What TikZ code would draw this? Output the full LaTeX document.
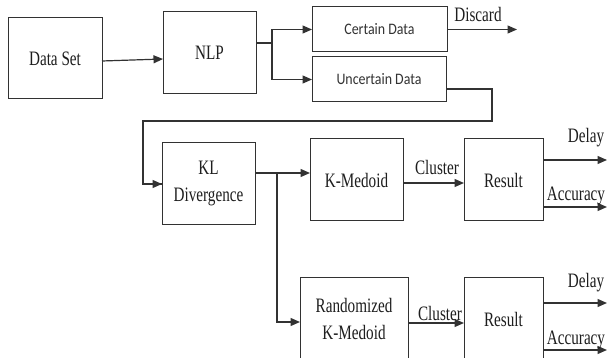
\documentclass[tikz,border=0pt]{standalone}
\usepackage{fontspec}
\setmainfont{Liberation Serif}[FakeStretch=0.74]
\newfontfamily\calfont{Carlito}[FakeStretch=0.87]
\usetikzlibrary{arrows.meta}
\definecolor{linec}{RGB}{50,50,50}
\definecolor{textc}{RGB}{30,30,30}
\begin{document}
\begin{tikzpicture}[x=1pt,y=-1pt,
  box/.style={draw=linec, line width=1pt, rectangle, inner sep=0pt, outer sep=0pt,
    align=center, text=textc, font=\fontsize{20.5}{27}\selectfont},
  sbox/.style={box, text={rgb,255:red,50;green,50;blue,50}, font=\calfont\fontsize{16}{18}\selectfont},
  ln/.style={draw=linec, line width=1.2pt},
  arr/.style={ln, -{Triangle[length=9.5pt,width=8pt]}},
  lbl/.style={inner sep=0pt, text=textc, font=\fontsize{20.5}{22}\selectfont}]
\path[fill=white, use as bounding box] (0,0) rectangle (608,358);
% boxes
\node[box, minimum width=94pt, minimum height=81pt] (ds) at (55,58.5) {Data Set};
\node[box, minimum width=93pt, minimum height=82pt] (nlp) at (209.5,53) {NLP};
\node[sbox, minimum width=135pt, minimum height=45pt] (cert) at (379.5,29.5) {Certain Data};
\node[sbox, minimum width=134pt, minimum height=45pt] (unc) at (379,79.5) {Uncertain Data};
\node[box, minimum width=93pt, minimum height=82pt] (kl) at (208.5,184) {KL\\Divergence};
\node[box, minimum width=93pt, minimum height=82pt] (km) at (356.5,180) {K-Medoid};
\node[box, minimum width=79pt, minimum height=82pt] (r1) at (503.5,180) {Result};
\node[box, minimum width=108pt, minimum height=82pt] (rkm) at (354,319) {Randomized\\K-Medoid};
\node[box, minimum width=79pt, minimum height=82pt] (r2) at (503.5,319) {Result};
% coordinates
\coordinate (b1) at (272,43);
\coordinate (dis) at (517,29.5);
\coordinate (u1) at (492,89);
\coordinate (u2) at (492,121);
\coordinate (u3) at (143,121);
\coordinate (b2) at (277,173);
\coordinate (d1) at (607,160);
\coordinate (a1) at (607,207);
\coordinate (d2) at (607,303);
\coordinate (a2) at (607,350);
% connectors
\draw[arr] ([yshift=-2.5pt]ds.east) -- ([yshift=-6pt]nlp.west);
\draw[ln] ([yshift=10pt]nlp.east) -- (b1);
\draw[arr] (b1) |- (cert.west);
\draw[arr] (b1) |- (unc.west);
\draw[arr] (cert.east) -- (dis);
\draw[ln] ([yshift=-9.5pt]unc.east) -- (u1) -- (u2) -- (u3) |- (kl.west);
\draw[arr] (u3 |- kl.west) -- (kl.west);
\draw[ln] ([yshift=11pt]kl.east) -- (b2);
\draw[arr] (b2) -- (b2 -| km.west);
\draw[arr] (b2) |- ([yshift=-3pt]rkm.west);
\draw[arr] ([yshift=-3pt]km.east) -- ([yshift=-3pt]r1.west);
\draw[arr] ([yshift=20pt]r1.east) -- (d1);
\draw[arr] ([yshift=-27pt]r1.east) -- (a1);
\draw[arr] ([yshift=-4pt]rkm.east) -- ([yshift=-4pt]r2.west);
\draw[arr] ([yshift=16pt]r2.east) -- (d2);
\draw[arr] ([yshift=-31pt]r2.east) -- (a2);
% labels
\node[lbl] (ldis) at (478,14) {Discard};
\node[lbl] (lc1) at (437,167) {Cluster};
\node[lbl] (ld1) at (586,138) {Delay};
\node[lbl] (la1) at (576,196) {Accuracy};
\node[lbl] (lc2) at (440,313) {Cluster};
\node[lbl] (ld2) at (586,283) {Delay};
\node[lbl] (la2) at (576,340) {Accuracy};
\end{tikzpicture}
\end{document}
